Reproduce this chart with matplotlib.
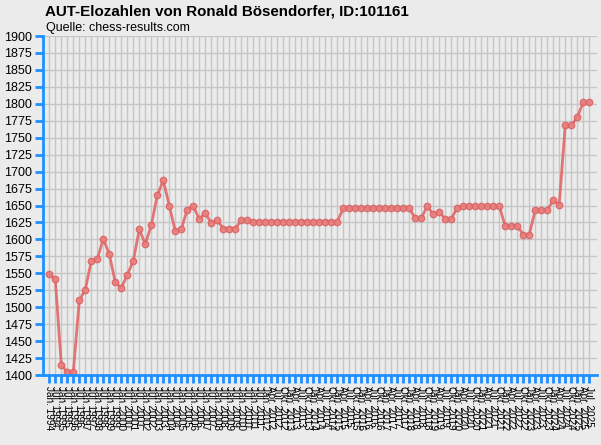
import matplotlib
matplotlib.use("Agg")
import matplotlib.pyplot as plt
import numpy as np

plt.rcParams['font.family'] = ['Liberation Sans', 'DejaVu Sans']

# ---- data ----
semi_labels = []
for y in range(1994, 2012):
    semi_labels += [f"Jan. {y}", f"Jul. {y}"]
semi_labels.append("Jan. 2012")
quarter_labels = []
months = ["Jan.", "Apr.", "Jul.", "Okt."]
for y in range(2012, 2026):
    for m in months:
        quarter_labels.append(f"{m} {y}")
quarter_labels = quarter_labels[1:]  # start at Apr. 2012
quarter_labels = quarter_labels[:quarter_labels.index("Jul. 2025") + 1]
dates = semi_labels + quarter_labels

elo = [1549, 1541, 1415, 1404, 1404, 1510, 1526, 1568, 1571, 1601,
       1578, 1537, 1528, 1548, 1568, 1615, 1593, 1621, 1665, 1687,
       1650, 1612, 1615, 1644, 1649, 1630, 1639, 1624, 1628, 1616,
       1616, 1616, 1628, 1628,
       1626, 1626, 1626, 1626, 1626, 1626, 1626, 1626, 1626, 1626,
       1626, 1626, 1626, 1626, 1626,
       1646, 1646, 1646, 1646, 1646, 1646, 1646, 1646, 1646, 1646,
       1646, 1646,
       1631, 1631, 1649, 1637, 1641, 1630, 1630, 1647, 1649,
       1649, 1649, 1649, 1649, 1649, 1649,
       1620, 1620, 1620, 1607, 1607, 1643, 1643, 1643, 1658, 1651,
       1768, 1768, 1780, 1802, 1802]

y_ticks = list(range(1400, 1901, 25))

title = "AUT-Elozahlen von Ronald Bösendorfer, ID:101161"
subtitle = "Quelle: chess-results.com"

# ---- figure ----
W, H = 601, 445
bg = '#EBEBEB'
blue = '#1E90FF'
fig = plt.figure(figsize=(W / 100, H / 100), dpi=100, facecolor=bg)
ax = fig.add_axes([43 / W, (H - 375) / H, (597 - 43) / W, (375 - 36) / H])
ax.set_facecolor(bg)

x = np.arange(len(elo))
ax.plot(x, elo, color='#E06868', lw=2, alpha=0.9, zorder=3,
        marker='o', markersize=4.6, markerfacecolor='#E88080',
        markeredgecolor='#DC6464', markeredgewidth=1)

ax.set_xlim(-1.05, len(elo) + 0.3)
ax.set_ylim(1400, 1900)
ax.set_yticks(y_ticks)
ax.set_xticks(x)
ax.set_xticklabels(dates, rotation=-90, fontsize=7.2, ha='center', va='top')
ax.tick_params(axis='y', colors=blue, length=6, width=2, labelsize=9,
               labelcolor='black', pad=2)
ax.tick_params(axis='x', colors=blue, length=6, width=2,
               labelcolor='black', pad=2)

ax.grid(True, color='#C6C6C6', lw=1, zorder=0)
ax.set_axisbelow(True)
for s in ['top', 'right']:
    ax.spines[s].set_visible(False)
for s in ['left', 'bottom']:
    ax.spines[s].set_color(blue)
    ax.spines[s].set_linewidth(2)
    ax.spines[s].set_zorder(4)

fig.text(45 / W, 1 - 4 / H, title, fontsize=10.9, fontweight='bold',
         ha='left', va='top')
fig.text(46 / W, 1 - 22 / H, subtitle, fontsize=9, ha='left', va='top')

fig.savefig('out.png', dpi=100, facecolor=bg)
